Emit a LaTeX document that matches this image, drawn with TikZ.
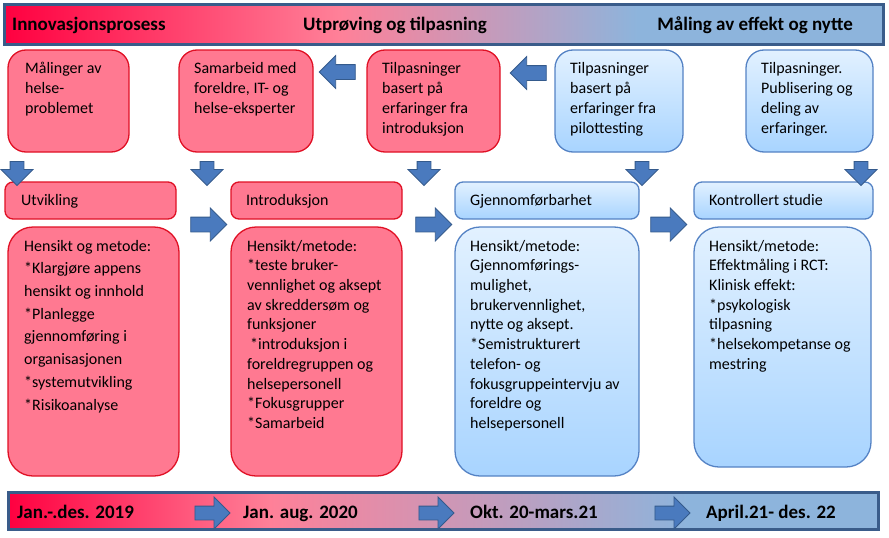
\documentclass[tikz,border=0pt]{standalone}
\usepackage{fontspec}
\setmainfont{Carlito}
\usepackage{tikz}
\usetikzlibrary{shapes.arrows}
\definecolor{rosafyll}{RGB}{255,121,145}
\definecolor{rodkant}{RGB}{224,16,36}
\definecolor{blatopp}{RGB}{226,241,255}
\definecolor{blabunn}{RGB}{168,212,255}
\definecolor{blakant}{RGB}{84,130,196}
\definecolor{pilfyll}{RGB}{74,122,190}
\definecolor{pilkant}{RGB}{52,90,140}
\definecolor{bjelkekant}{RGB}{58,92,138}
\definecolor{bjelkerod}{RGB}{255,0,64}
\definecolor{bjelkerosa}{RGB}{255,128,152}
\definecolor{bjelkebla}{RGB}{141,180,220}
\pgfdeclarehorizontalshading{ToppSkygge}{100bp}{color(0bp)=(bjelkerod); color(25bp)=(bjelkerod); color(44bp)=(bjelkerosa); color(61bp)=(bjelkebla); color(100bp)=(bjelkebla)}
\pgfdeclarehorizontalshading{BunnSkygge}{100bp}{color(0bp)=(bjelkerod); color(25bp)=(bjelkerod); color(40bp)=(bjelkerosa); color(64bp)=(bjelkebla); color(100bp)=(bjelkebla)}
\tikzset{
RosaBoks/.style={
 draw=rodkant, 
 fill=rosafyll, 
 line width=1.3pt, 
 anchor=north west, 
 inner sep=0pt, 
 outer sep=0pt
 },
BlaBoks/.style={
 draw=blakant, 
 top color=blatopp, 
 bottom color=blabunn, 
 line width=1.3pt, 
 anchor=north west, 
 inner sep=0pt, 
 outer sep=0pt
 },
BoksTekst/.style={
 anchor=north west, 
 align=left, 
 inner sep=0pt, 
 font=\fontsize{16}{19.7}\selectfont
 },
Bjelke/.style={
 draw=bjelkekant, 
 line width=3pt, 
 anchor=north west, 
 inner sep=0pt, 
 outer sep=0pt
 },
BjelkeTekst/.style={
 inner sep=0pt, 
 font=\fontsize{19}{22}\selectfont\bfseries
 },
BlokkPil/.style={
 single arrow, 
 draw=pilkant, 
 fill=pilfyll, 
 line width=0.8pt, 
 inner xsep=0pt, 
 inner ysep=#1, 
 single arrow head extend=9pt
 },
BlokkPil/.default={7pt}
}
\begin{document}
\begin{tikzpicture}[x=1pt,y=-1pt]
\useasboundingbox (0,0) rectangle (889,538);
% fasene oeverst
\node[Bjelke, shading=ToppSkygge, minimum width=879pt, minimum height=40pt] (topp) at (4.5,4.5) {};
\node[BjelkeTekst, anchor=base west] (innov) at (12,30) {Innovasjonsprosess};
\node[BjelkeTekst, anchor=base] (utprov) at (395,30) {Utprøving og tilpasning};
\node[BjelkeTekst, anchor=base east] (maaling) at (853,30) {Måling av effekt og nytte};
% innspill
\node[RosaBoks, rounded corners=18pt, minimum width=121pt, minimum height=102pt] (inn1) at (8,50) {};
\node[BoksTekst, font=\fontsize{16}{20}\selectfont] (inn1t) at ([shift={(17,9)}]inn1.north west) {\strut Målinger av\\helse-\\problemet};
\node[RosaBoks, rounded corners=18pt, minimum width=134pt, minimum height=102pt] (inn2) at (179,50) {};
\node[BoksTekst, font=\fontsize{16}{20}\selectfont] (inn2t) at ([shift={(15,9)}]inn2.north west) {\strut Samarbeid med\\foreldre, IT- og\\helse-eksperter};
\node[RosaBoks, rounded corners=18pt, minimum width=133pt, minimum height=102pt] (inn3) at (367,50) {};
\node[BoksTekst, font=\fontsize{16}{20}\selectfont] (inn3t) at ([shift={(15,9)}]inn3.north west) {\strut Tilpasninger\\basert på\\erfaringer fra\\introduksjon};
\node[BlaBoks, rounded corners=18pt, minimum width=128pt, minimum height=102pt] (inn4) at (555,50) {};
\node[BoksTekst, font=\fontsize{16}{20}\selectfont] (inn4t) at ([shift={(15,9)}]inn4.north west) {\strut Tilpasninger\\basert på\\erfaringer fra\\pilottesting};
\node[BlaBoks, rounded corners=18pt, minimum width=127pt, minimum height=102pt] (inn5) at (746,50) {};
\node[BoksTekst, font=\fontsize{16}{20}\selectfont] (inn5t) at ([shift={(15,9)}]inn5.north west) {\strut Tilpasninger.\\Publisering og\\deling av\\erfaringer.};
% overskrifter
\node[RosaBoks, rounded corners=8pt, minimum width=171pt, minimum height=37pt] (utv) at (5,182) {};
\node[BoksTekst] (utvt) at ([shift={(16,9.2)}]utv.north west) {\strut Utvikling};
\node[RosaBoks, rounded corners=8pt, minimum width=171pt, minimum height=37pt] (intro) at (231,182) {};
\node[BoksTekst] (introt) at ([shift={(15,9.2)}]intro.north west) {\strut Introduksjon};
\node[BlaBoks, rounded corners=8pt, minimum width=184pt, minimum height=37pt] (gjen) at (455,182) {};
\node[BoksTekst] (gjent) at ([shift={(15,9.2)}]gjen.north west) {\strut Gjennomførbarhet};
\node[BlaBoks, rounded corners=8pt, minimum width=179pt, minimum height=37pt] (kontr) at (694,182) {};
\node[BoksTekst] (kontrt) at ([shift={(15,9.2)}]kontr.north west) {\strut Kontrollert studie};
% hensikt og metode
\node[RosaBoks, rounded corners=25pt, minimum width=171pt, minimum height=249pt] (met1) at (8,227) {};
\node[BoksTekst, font=\fontsize{16}{22.7}\selectfont] (met1t) at ([shift={(16,8.1)}]met1.north west) {\strut Hensikt og metode:\\*Klargjøre appens\\hensikt og innhold\\*Planlegge\\gjennomføring i\\organisasjonen\\*systemutvikling\\*Risikoanalyse};
\node[RosaBoks, rounded corners=25pt, minimum width=171pt, minimum height=249pt] (met2) at (231,227) {};
\node[BoksTekst] (met2t) at ([shift={(16,10.2)}]met2.north west) {\strut Hensikt/metode:\\*teste bruker-\\vennlighet og aksept\\av skreddersøm og\\funksjoner\\\hspace{3pt}*introduksjon i\\foreldregruppen og\\helsepersonell\\*Fokusgrupper\\*Samarbeid};
\node[BlaBoks, rounded corners=25pt, minimum width=184pt, minimum height=249pt] (met3) at (455,227) {};
\node[BoksTekst] (met3t) at ([shift={(15,10.2)}]met3.north west) {\strut Hensikt/metode:\\Gjennomførings-\\mulighet,\\brukervennlighet,\\nytte og aksept.\\*Semistrukturert\\telefon- og\\fokusgruppeintervju av\\foreldre og\\helsepersonell};
\node[BlaBoks, rounded corners=25pt, minimum width=177pt, minimum height=240pt] (met4) at (694,227) {};
\node[BoksTekst] (met4t) at ([shift={(15,10.2)}]met4.north west) {\strut Hensikt/metode:\\Effektmåling i RCT:\\Klinisk effekt:\\*psykologisk\\tilpasning\\*helsekompetanse og\\mestring};
% piler
\node[BlokkPil, rotate=180, minimum height=36pt] (vp1) at (341,72) {};
\node[BlokkPil, rotate=180, minimum height=36pt] (vp2) at (532,73) {};
\foreach \x/\n in {17/1,207/2,424/3,642/4,861/5}
 \node[BlokkPil=6.5pt, rotate=-90, minimum height=24pt] (np\n) at (\x,170) {};
\foreach \x/\n in {205/1,430/2,665/3}
 \node[BlokkPil, minimum height=36pt] (hp\n) at (\x,224.5) {};
% tidslinje
\node[Bjelke, shading=BunnSkygge, minimum width=870pt, minimum height=37pt] (bunn) at (8.5,492.5) {};
\foreach \x/\n in {209/1,433/2,669/3}
 \node[BlokkPil=6.5pt, minimum height=35pt] (tp\n) at (\x,513) {};
\node[BjelkeTekst, anchor=base west] (tid1) at (17,518) {Jan.-.des. 2019};
\node[BjelkeTekst, anchor=base west] (tid2) at (243,518) {Jan. aug. 2020};
\node[BjelkeTekst, anchor=base west] (tid3) at (470,518) {Okt. 20-mars.21};
\node[BjelkeTekst, anchor=base west] (tid4) at (706,518) {April.21- des. 22};
\end{tikzpicture}
\end{document}
